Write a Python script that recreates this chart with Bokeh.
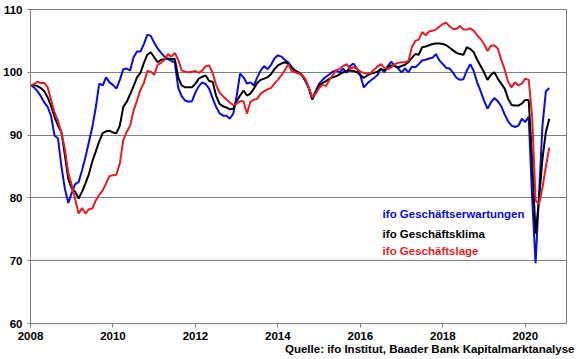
from bokeh.plotting import figure
from bokeh.models import Range1d, FixedTicker, Label, Title
from bokeh.embed import file_html
from bokeh.resources import INLINE

start_year = 2008
x_ticks = [2008, 2010, 2012, 2014, 2016, 2018, 2020]
y_ticks = [60, 70, 80, 90, 100, 110]

# monthly values, Jan 2008 .. Aug 2020
klima = [
    97.9, 98.0, 97.8, 97.5, 97.0, 96.0, 94.6, 92.9, 91.5, 90.5, 86.8, 83.0,
    81.5, 81.0, 79.9, 81.0, 82.3, 83.8, 85.8, 87.4, 89.0, 90.3, 90.6, 90.7,
    90.4, 90.3, 91.5, 94.5, 95.3, 96.5, 97.8, 99.2, 99.9, 101.5, 102.8, 103.2,
    102.4, 101.6, 102.0, 102.1, 102.2, 102.1, 102.1, 99.2, 97.9, 97.6, 97.6, 97.6,
    98.2, 99.0, 99.3, 99.5, 98.6, 98.5, 96.3, 95.0, 94.6, 94.4, 94.1, 94.2,
    95.4, 96.3, 97.1, 96.3, 96.6, 97.4, 98.3, 98.8, 99.0, 99.2, 99.7, 100.5,
    101.1, 101.4, 101.6, 101.4, 100.7, 100.3, 100.0, 99.6, 98.8, 97.5, 95.7, 96.8,
    97.9, 98.3, 98.6, 99.0, 99.2, 99.4, 99.7, 100.0, 100.2, 100.3, 100.2, 100.0,
    99.6, 99.1, 99.5, 99.8, 99.9, 100.1, 100.5, 100.3, 100.8, 101.1, 101.0, 100.8,
    101.0, 101.2, 101.6, 102.3, 102.9, 102.8, 104.0, 104.1, 104.3, 104.5, 104.6, 104.6,
    104.5, 104.3, 103.9, 103.5, 103.1, 102.9, 102.8, 104.0, 103.7, 103.2, 102.0, 101.0,
    100.0, 98.8, 99.6, 100.0, 99.0, 98.2, 97.4, 95.8, 94.8, 94.7, 94.7, 95.0,
    95.6, 95.6, 86.0, 74.3, 79.7, 86.2, 90.5, 92.6,
]

erwartungen = [
    98.0, 97.6, 97.0, 96.2, 95.2, 94.5, 93.0, 89.9, 89.5, 85.0, 81.5, 79.2,
    80.8, 82.2, 82.5, 84.4, 86.5, 88.9, 91.3, 94.4, 98.2, 97.9, 99.2, 98.4,
    98.0, 97.4, 98.8, 100.5, 100.6, 100.3, 102.4, 103.3, 103.3, 104.5, 106.0, 105.8,
    104.7, 103.8, 103.1, 102.5, 102.1, 101.8, 101.6, 97.5, 96.2, 95.5, 95.3, 95.4,
    96.8, 97.8, 98.4, 98.1, 97.4, 95.9, 94.5, 93.5, 93.1, 93.1, 92.6, 93.4,
    96.2, 99.8, 99.2, 98.2, 98.4, 97.9, 99.2, 100.3, 101.0, 100.5, 101.2, 102.2,
    102.7, 102.5, 102.0, 101.6, 100.9, 100.2, 99.9, 99.5, 98.6, 97.5, 95.7, 97.0,
    98.2, 98.8, 99.3, 99.7, 100.1, 100.3, 100.0, 100.6, 99.9, 101.0, 101.4, 100.6,
    99.5, 97.6, 98.2, 98.7, 99.1, 99.6, 100.6, 100.0, 101.0, 101.7, 101.0, 100.6,
    100.0, 100.6, 100.0, 100.9, 100.8, 101.3, 101.9, 102.0, 102.2, 102.3, 102.9, 101.9,
    101.3, 100.7, 100.6, 99.9, 99.1, 98.8, 98.9, 100.3, 101.3, 100.2, 98.4, 97.0,
    95.5, 94.2, 95.2, 95.9, 95.4, 94.6, 93.3, 92.2, 91.5, 91.3, 91.5, 92.6,
    92.1, 92.9, 80.0, 69.6, 80.5, 91.5, 97.0, 97.5,
]

lage = [
    97.9, 98.1, 98.5, 98.3, 98.3, 97.6, 95.6, 93.6, 92.3, 90.4, 87.8, 84.0,
    82.0, 79.8, 77.5, 78.4, 77.5, 78.2, 78.3, 79.6, 80.5, 81.2, 82.3, 83.5,
    83.6, 83.7, 85.5, 89.2, 90.5, 91.5, 93.9, 95.5, 97.2, 98.3, 100.2, 100.1,
    99.6, 101.2, 101.5, 102.0, 102.9, 102.5, 103.1, 102.0, 100.3, 100.1, 100.0, 100.1,
    100.2, 99.9, 100.3, 101.0, 101.1, 99.9, 98.0, 96.8, 96.2, 95.7, 95.2, 94.8,
    95.0, 95.4, 95.4, 93.4, 95.3, 95.6, 95.8, 96.6, 97.0, 97.3, 97.5, 98.2,
    98.8, 99.5, 100.3, 101.3, 100.2, 100.0, 99.8, 99.6, 98.9, 97.6, 96.0, 96.6,
    97.5, 98.0, 97.8, 98.8, 99.6, 100.3, 100.6, 101.0, 101.3, 100.6, 100.8, 100.6,
    100.1, 99.9, 99.8, 99.9, 100.4, 100.9, 101.3, 100.7, 100.5, 100.8, 101.3, 101.5,
    101.6, 101.6, 101.8, 104.0, 105.0, 105.2, 106.4, 105.9, 106.5, 106.6, 106.8, 107.3,
    107.7, 107.9, 107.3, 106.9, 106.9, 107.4, 106.8, 106.8, 107.0, 106.6, 105.9, 105.3,
    104.5, 103.4, 104.2, 104.3, 103.8, 102.0, 100.5, 98.5, 97.6, 98.4, 97.9, 98.2,
    99.0, 98.8, 93.0, 79.6, 79.0, 81.6, 85.0, 88.0,
]

labels = ["ifo Geschäftserwartungen", "ifo Geschäftsklima", "ifo Geschäftslage"]
source_text = "Quelle: ifo Institut, Baader Bank Kapitalmarktanalyse"

months = [start_year + i / 12 for i in range(len(klima))]

BLUE = "#0a0ae6"
BLACK = "#000000"
RED = "#ec1c24"
GRAY = "#808080"
FONT = "Liberation Sans"

p = figure(width=580, height=359, x_range=Range1d(2008, 2021), y_range=Range1d(60, 110),
           output_backend="svg", toolbar_location=None,
           min_border_left=30, min_border_right=14, min_border_top=9, min_border_bottom=36)
p.background_fill_color = "white"
p.border_fill_color = "white"
p.outline_line_color = GRAY
p.outline_line_width = 1

p.line(months, erwartungen, line_color=BLUE, line_width=2)
p.line(months, klima, line_color=BLACK, line_width=2)
p.line(months, lage, line_color=RED, line_width=2)

p.xaxis.ticker = FixedTicker(ticks=x_ticks)
p.yaxis.ticker = FixedTicker(ticks=y_ticks)
p.xgrid.visible = False
p.ygrid.grid_line_color = GRAY
p.ygrid.grid_line_width = 1

for ax in (p.xaxis, p.yaxis):
    ax.axis_line_color = GRAY
    ax.major_tick_line_color = GRAY
    ax.minor_tick_line_color = None
    ax.major_label_text_font = FONT
    ax.major_label_text_font_style = "bold"
    ax.major_label_text_font_size = "11.5px"
    ax.major_label_text_color = "black"
p.xaxis.major_tick_in = 0
p.xaxis.major_tick_out = 4
p.xaxis.major_label_standoff = 4
p.yaxis.major_tick_in = 0
p.yaxis.major_tick_out = 3
p.yaxis.major_label_standoff = 5

for txt, col, yy in zip(labels, [BLUE, BLACK, RED], [77.4, 74.3, 71.6]):
    p.add_layout(Label(x=2016.54, y=yy, text=txt, text_color=col, text_font=FONT,
                       text_font_style="bold", text_font_size="11.5px",
                       text_baseline="middle", text_align="left"))

src = Title(text=source_text, align="right", offset=-8, standoff=-4,
            text_font=FONT, text_font_style="bold", text_font_size="11.5px",
            text_color="black")
p.add_layout(src, "below")

open("out.html", "w").write(file_html(p, INLINE))
